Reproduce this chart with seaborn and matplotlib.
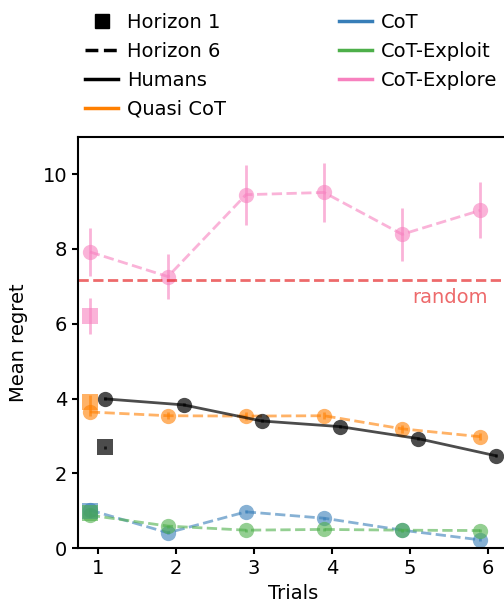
import matplotlib
matplotlib.use("Agg")
import matplotlib.pyplot as plt
import seaborn as sns
import numpy as np
import pandas as pd
from matplotlib.lines import Line2D

trials = [1, 2, 3, 4, 5, 6]

# Horizon 6 means / error bars
humans_h6 = [3.99, 3.83, 3.40, 3.25, 2.93, 2.47]
humans_h6_err = [0.04, 0.04, 0.04, 0.04, 0.04, 0.04]
quasi_h6 = [3.64, 3.54, 3.53, 3.54, 3.19, 2.98]
quasi_h6_err = [0.12, 0.1, 0.1, 0.1, 0.1, 0.1]
cot_h6 = [1.02, 0.41, 0.97, 0.80, 0.48, 0.22]
cot_h6_err = [0.04, 0.04, 0.04, 0.04, 0.04, 0.04]
exploit_h6 = [0.88, 0.59, 0.48, 0.50, 0.48, 0.47]
exploit_h6_err = [0.04, 0.04, 0.04, 0.04, 0.04, 0.04]
explore_h6 = [7.92, 7.26, 9.45, 9.51, 8.39, 9.03]
explore_h6_err = [0.65, 0.6, 0.8, 0.8, 0.7, 0.75]

# Horizon 1 (trial 1 only)
humans_h1, humans_h1_err = 2.70, 0.04
quasi_h1, quasi_h1_err = 3.92, 0.18
cot_h1, cot_h1_err = 1.00, 0.04
exploit_h1, exploit_h1_err = 0.94, 0.04
explore_h1, explore_h1_err = 6.20, 0.48

random_regret = 7.16

pal = sns.color_palette("Set1")
red, blue, green, orange, pink = pal[0], pal[1], pal[2], pal[4], pal[7]

series = [
    ("Quasi CoT", orange, quasi_h6, quasi_h6_err, quasi_h1, quasi_h1_err),
    ("CoT", blue, cot_h6, cot_h6_err, cot_h1, cot_h1_err),
    ("CoT-Exploit", green, exploit_h6, exploit_h6_err, exploit_h1, exploit_h1_err),
    ("CoT-Explore", pink, explore_h6, explore_h6_err, explore_h1, explore_h1_err),
]

plt.rcParams["font.family"] = ["DejaVu Sans"]
plt.rcParams["font.size"] = 14
plt.rcParams["axes.linewidth"] = 1.5
plt.rcParams["xtick.major.width"] = 1.5
plt.rcParams["ytick.major.width"] = 1.5
plt.rcParams["xtick.major.size"] = 4.5
plt.rcParams["ytick.major.size"] = 4.5

fig = plt.figure(figsize=(5.04, 6.05), dpi=100)
ax = fig.add_axes([0.155, 0.094, 0.852, 0.68])

alpha = 0.6
for name, color, h6, h6err, h1, h1err in series:
    xs = np.array(trials) - 0.1
    df = pd.DataFrame({"x": xs, "y": h6})
    sns.lineplot(data=df, x="x", y="y", ax=ax, color=color, linestyle="--",
                 linewidth=2, marker="o", markersize=11, markeredgewidth=0,
                 alpha=alpha)
    ax.errorbar(xs, h6, yerr=h6err, fmt="none", ecolor=color, elinewidth=2,
                alpha=alpha)
    ax.errorbar([trials[0] - 0.1], [h1], yerr=[h1err], fmt="s", color=color,
                markersize=11, markeredgewidth=0, elinewidth=2, alpha=alpha)

xs_h = np.array(trials) + 0.1
dfh = pd.DataFrame({"x": xs_h, "y": humans_h6})
sns.lineplot(data=dfh, x="x", y="y", ax=ax, color="black", linestyle="-",
             linewidth=2, marker="o", markersize=11, markeredgewidth=0, alpha=0.7)
ax.errorbar(xs_h, humans_h6, yerr=humans_h6_err, fmt="none", ecolor="black",
            elinewidth=2, alpha=0.7)
ax.errorbar([trials[0] + 0.1], [humans_h1], yerr=[humans_h1_err], fmt="s",
            color="black", markersize=11, markeredgewidth=0, elinewidth=2, alpha=0.7)

ax.axhline(random_regret, color=red, linestyle="--", linewidth=2, alpha=0.65)
ax.text(6.0, random_regret - 0.2, "random", color=red, alpha=0.65,
        ha="right", va="top", fontsize=14)

ax.set_xlim(0.75, 6.25)
ax.set_ylim(0, 11)
ax.set_xticks(trials)
ax.set_yticks([0, 2, 4, 6, 8, 10])
ax.set_xlabel("Trials", labelpad=4)
ax.set_ylabel("Mean regret", labelpad=10)

handles = [
    Line2D([], [], color="black", marker="s", linestyle="none", markersize=10),
    Line2D([], [], color="black", linestyle="--", linewidth=2.5),
    Line2D([], [], color="black", linestyle="-", linewidth=2.5),
    Line2D([], [], color=orange, linewidth=2.5),
    Line2D([], [], color=blue, linewidth=2.5),
    Line2D([], [], color=green, linewidth=2.5),
    Line2D([], [], color=pink, linewidth=2.5),
]
labels = ["Horizon 1", "Horizon 6", "Humans", "Quasi CoT",
          "CoT", "CoT-Exploit", "CoT-Explore"]
fig.legend(handles, labels, ncol=2, frameon=False, loc="upper left",
           bbox_to_anchor=(0.134, 1.007), columnspacing=5.8, handlelength=1.7,
           handletextpad=0.45, labelspacing=0.5)

fig.savefig("out.png", dpi=100)
